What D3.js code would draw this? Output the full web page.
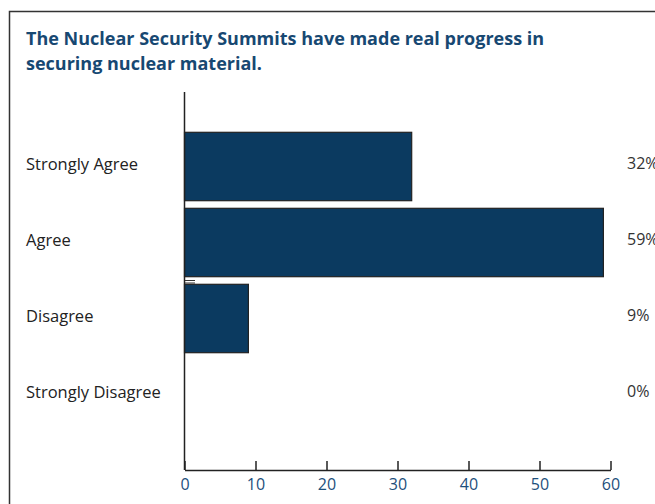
<!DOCTYPE html>
<html><head><meta charset="utf-8">
<script src="https://cdn.jsdelivr.net/npm/d3@7"></script>
<style>body{margin:0;background:#fff;}svg{display:block;}</style>
</head><body>
<svg id="c" width="655" height="504"></svg>
<script>
const categories = ["Strongly Agree", "Agree", "Disagree", "Strongly Disagree"];
const values = [32, 59, 9, 0];
const valueLabels = ["32%", "59%", "9%", "0%"];
const ticks = [0, 10, 20, 30, 40, 50, 60];
const titleLines = ["The Nuclear Security Summits have made real progress in", "securing nuclear material."];

const svg = d3.select("#c");
const navy = "#0b3a60";
const blueText = "#1d4f7c";

// frame
svg.append("path").attr("d", "M9.5,504 V11.5 H655").attr("fill", "none").attr("stroke", "#333").attr("stroke-width", 1.5);

svg.selectAll("text.title").data(titleLines).join("text")
  .attr("class", "title")
  .attr("x", 26).attr("y", (d, i) => 45 + i * 25)
  .attr("font-family", "Open Sans, sans-serif").attr("font-weight", "bold")
  .attr("font-size", 18).attr("fill", "#174872").text(d => d);

const x = d3.scaleLinear().domain([0, 60]).range([184.5, 610.5]);
const y = d3.scaleBand().domain(categories).range([128, 432]).paddingInner(0.1).paddingOuter(0.05);

// bars
svg.selectAll("rect.bar").data(values).join("rect")
  .attr("class", "bar")
  .attr("x", x(0)).attr("y", (d, i) => y(categories[i]) + 0.5)
  .attr("width", d => Math.max(0, x(d) - x(0)))
  .attr("height", y.bandwidth())
  .attr("fill", navy).attr("stroke", d => d > 0 ? "#222" : "none").attr("stroke-width", 1.2);

// vertical axis line
svg.append("line").attr("x1", 184.5).attr("x2", 184.5).attr("y1", 92).attr("y2", 470)
  .attr("stroke", "#222").attr("stroke-width", 1.5);

// small marker
svg.append("line").attr("x1", 185).attr("x2", 195).attr("y1", 280.5).attr("y2", 280.5).attr("stroke", "#333").attr("stroke-width", 1);
svg.append("line").attr("x1", 185).attr("x2", 195).attr("y1", 283).attr("y2", 283).attr("stroke", "#333").attr("stroke-width", 1);

// x axis
const xAxis = d3.axisBottom(x).tickValues(ticks).tickSizeInner(-9).tickSizeOuter(0).tickPadding(7);
const gx = svg.append("g").attr("transform", "translate(0,470)").call(xAxis);
gx.select(".domain").attr("stroke", "#222").attr("stroke-width", 1.5);
gx.selectAll(".tick line").attr("stroke", "#222").attr("stroke-width", 1.5);
gx.selectAll(".tick text").attr("font-family", "Open Sans, sans-serif").attr("font-size", 16)
  .attr("fill", blueText).attr("dy", "0.71em").attr("y", 9);

// category labels
svg.selectAll("text.cat").data(categories).join("text")
  .attr("class", "cat").attr("x", 26)
  .attr("y", d => y(d) + y.bandwidth() / 2)
  .attr("dominant-baseline", "middle")
  .attr("font-family", "Open Sans, sans-serif").attr("font-size", 16.5).attr("fill", "#222").text(d => d);

// value labels
svg.selectAll("text.val").data(valueLabels).join("text")
  .attr("class", "val").attr("x", 627)
  .attr("y", (d, i) => y(categories[i]) + y.bandwidth() / 2 - 1)
  .attr("dominant-baseline", "middle")
  .attr("font-family", "Open Sans, sans-serif").attr("font-size", 16).attr("fill", "#333").text(d => d);
</script>
</body></html>
